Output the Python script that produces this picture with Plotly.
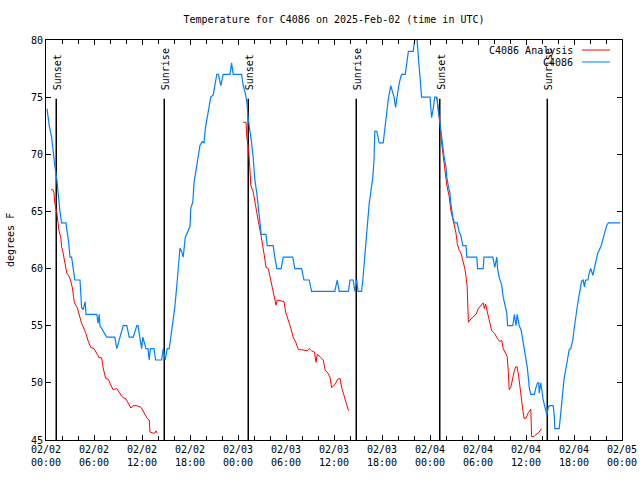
import pandas as pd
import plotly.graph_objects as go

START = pd.Timestamp("2025-02-02 00:00")
END = pd.Timestamp("2025-02-05 00:00")

# Observations (hours since 02/02 00:00 UTC, degrees F)
obs_hours = [0.125, 0.4, 0.7, 0.9, 1.1, 1.35, 1.55, 1.75, 1.95, 2.5, 2.6, 2.8, 3.0, 3.2, 3.4, 3.6,
             4.25, 4.4, 4.45, 4.65, 4.9, 5.0, 6.35, 6.5, 6.65, 6.75, 7.6, 8.6, 8.85, 9.25, 9.65,
             10.1, 10.4, 10.9, 11.35, 11.5, 11.75, 11.95, 12.1, 12.5, 12.75, 12.9, 13.05, 13.5,
             13.7, 14.45, 14.65, 14.9, 15.15, 15.4, 15.6, 15.9, 16.1, 16.35, 16.55, 16.75, 16.95,
             17.15, 17.4, 17.6, 18.0, 18.1, 18.35, 18.5, 18.7, 18.85, 19.05, 19.25, 19.55, 19.75,
             19.95, 20.15, 20.4, 20.6, 20.9, 21.1, 21.35, 21.55, 21.85, 22.15, 23.0, 23.2, 23.4,
             24.45, 24.65, 24.9, 25.1, 25.3, 25.5, 25.7, 25.9, 26.1, 26.35, 26.55, 26.75, 26.9,
             27.5, 27.65, 28.4, 28.6, 28.85, 29.4, 29.65, 30.85, 31.1, 31.95, 32.25, 32.9, 33.2,
             36.1, 36.4, 36.65, 37.8, 38.0, 38.4, 38.6, 38.85, 39.0, 39.45, 39.6, 39.8, 40.0,
             40.15, 40.4, 40.6, 40.85, 41.0, 41.1, 41.35, 41.65, 42.15, 42.4, 42.6, 42.8, 43.1,
             43.3, 43.5, 43.7, 43.85, 44.05, 44.25, 44.45, 44.9, 45.1, 45.3, 45.9, 46.1, 46.35,
             46.45, 46.6, 46.75, 46.9, 46.95, 48.0, 48.1, 48.2, 48.4, 48.6, 48.85, 49.05, 49.15,
             49.45, 49.75, 50.0, 50.1, 50.3, 50.5, 50.6, 50.85, 51.05, 51.4, 51.65, 51.85, 52.1,
             52.5, 52.6, 53.85, 53.95, 54.65, 54.75, 55.85, 56.0, 56.1, 56.35, 56.45, 56.65,
             56.95, 57.15, 57.4, 57.6, 57.7, 58.35, 58.55, 58.75, 58.9, 59.15, 59.4, 59.55, 59.8,
             60.0, 60.15, 60.3, 60.4, 60.6, 61.05, 61.25, 61.45, 61.6, 61.65, 61.85, 61.95, 62.15,
             62.4, 62.6, 62.8, 63.0, 63.4, 63.55, 63.6, 64.15, 64.35, 64.45, 64.6, 64.75, 64.95,
             65.1, 65.3, 65.4, 65.6, 65.85, 66.0, 66.15, 66.35, 66.55, 66.75, 66.95, 67.15, 67.3,
             67.45, 67.75, 67.9, 68.1, 68.35, 68.5, 68.75, 68.95, 69.4, 69.65, 69.9, 70.1, 70.3,
             71.75]
obs_temps = [74, 72.5, 71.5, 70, 69, 67.8, 66, 65, 64, 64, 63.4, 62.5, 61, 61, 60, 59,
             59, 57.5, 56.6, 56.4, 57.1, 56, 56, 55.2, 56, 55, 54, 54, 53, 54, 55,
             55, 54, 54, 55, 55, 54, 53, 54, 53, 53, 52, 53, 53,
             52, 52, 53, 52, 53, 53, 54, 55.5, 56.6, 58.5, 60.5, 61.8, 61.5,
             61, 62.7, 63, 63.7, 65.3, 65.8, 67.5, 68.4, 69, 70.1, 70.8, 71.1, 71,
             72.4, 73.3, 74.3, 75, 75.2, 76, 77, 77, 76, 77, 77, 78, 77,
             77, 76, 75.4, 74.6, 73, 72.1, 71, 69.7, 67.8, 66.6, 65, 64, 63,
             63, 62, 62, 61, 60, 60, 61, 61, 60, 60, 59, 59, 58,
             58, 59, 58, 58, 59, 59, 58, 59, 58, 58, 59, 60.75, 62.2,
             63.4, 65.7, 66.7, 68, 69.5, 72, 72, 71, 71, 72.6, 73.9, 74.9, 76,
             75.6, 75, 74.1, 75, 75.8, 76.5, 77, 77, 78, 79, 79, 80, 80.3,
             79, 78, 76.8, 75.4, 75, 75, 74, 73.2, 74, 75, 75, 73.9, 73,
             71.3, 69.8, 68.9, 68, 67.2, 66.6, 65.7, 64.5, 64, 64, 63.2, 62.9, 62,
             62, 61, 61, 60, 60, 61, 61, 60.5, 60.1, 61, 60, 59.2,
             58.6, 57.5, 56.6, 56.1, 55, 55, 56, 55, 56, 55, 54.6, 54, 53,
             52.3, 51.4, 50.4, 49.6, 49, 49, 49.6, 50, 50, 49.1, 50, 49.4, 48.5,
             47.8, 47.2, 47.9, 48, 48, 47, 46, 46, 47.4, 48.2, 49.4, 50.3, 51.1,
             51.6, 52.3, 52.9, 53, 53.75, 54.6, 55.5, 56.4, 57.3, 58.3, 58.9, 59, 58.4,
             59, 59, 59.6, 60, 59.4, 59.9, 60.9, 61.3, 62, 62.7, 63.4, 63.8, 64,
             64]

# Analysis (three overnight segments)
ana1_hours = [0.625, 0.85, 1.0, 1.1, 1.35, 1.45, 1.6, 1.85, 1.95, 2.1, 2.25, 2.4, 2.6, 2.9, 3.1,
              3.3, 3.4, 3.55, 3.9, 4.15, 4.45, 4.65, 4.95, 5.3, 5.6, 6.0, 6.35, 6.65, 6.95, 7.15,
              7.45, 7.8, 8.1, 8.4, 8.85, 9.1, 9.4, 9.65, 10.0, 10.3, 10.6, 10.9, 11.35, 11.75,
              11.95, 12.4, 12.65, 12.9, 13.0, 13.4, 13.6, 13.75, 13.9]
ana1_temps = [66.9, 66.9, 66.6, 65.7, 64.9, 64.1, 63.4, 62.7, 61.9, 61.5, 60.9, 60.1, 59.6, 59.3, 58.9,
              58.3, 57.5, 57, 56.6, 55.9, 55.2, 54.9, 54.4, 53.6, 53.1, 53, 52.6, 52.2, 52.2, 51.3,
              50.4, 50.3, 49.8, 49.4, 49.5, 49.2, 48.9, 48.7, 48.6, 48.2, 47.8, 48, 48, 47.9,
              47.8, 47.2, 46.9, 46.75, 45.7, 45.6, 45.6, 45.8, 45.6]
ana2_hours = [24.65, 25.0, 25.1, 25.3, 25.5, 25.6, 25.9, 26.1, 26.35, 26.55, 26.85, 27.1, 27.25,
              27.5, 27.8, 28.0, 28.2, 28.4, 28.75, 28.9, 29.25, 29.75, 29.95, 30.3, 30.6, 30.9,
              31.25, 31.55, 31.95, 32.65, 32.9, 33.2, 33.55, 33.75, 33.9, 34.25, 34.65, 34.9,
              35.2, 35.5, 35.7, 35.9, 36.25, 36.45, 36.75, 36.95, 37.15, 37.4, 37.6, 37.8, 37.9]
ana2_temps = [72.8, 72.8, 71.5, 70.6, 68.6, 67.3, 66.7, 66, 65.1, 64.1, 63, 62.1, 61.3,
              60.1, 60, 59.3, 58.6, 57.9, 56.8, 57.25, 57.2, 57.1, 56.2, 55.5, 54.8, 54,
              53.5, 52.9, 52.9, 52.8, 53, 52.8, 52.7, 51.8, 52.5, 52.3, 52, 51.1,
              50.9, 50.5, 49.6, 49.7, 50, 50.3, 50.4, 49.6, 49.1, 48.5, 47.9, 47.6, 47.6]
ana3_hours = [48.75, 48.9, 49.05, 49.25, 49.45, 49.65, 49.9, 50.1, 50.4, 50.6, 50.8, 51.05, 51.25,
              51.4, 51.65, 51.9, 52.05, 52.15, 52.35, 52.5, 52.65, 52.7, 52.8, 53.0, 53.4, 53.75,
              54.05, 54.4, 54.65, 54.8, 54.95, 55.2, 55.5, 55.7, 56.1, 56.4, 56.75, 56.95, 57.15,
              57.45, 57.65, 57.8, 57.9, 58.1, 58.35, 58.55, 58.7, 58.9, 59.1, 59.35, 59.55, 59.75,
              60.0, 60.3, 60.6, 60.7, 61.0, 61.25, 61.55, 61.75, 61.95]
ana3_temps = [74.9, 74.9, 73.7, 72.7, 71, 69.8, 68.5, 67.3, 66.3, 65.1, 64.5, 63.8, 63.1,
              62.2, 61.6, 61.3, 60.9, 60.5, 60, 59.3, 58.4, 57.25, 55.3, 55.5, 55.8, 56,
              56.5, 56.8, 57, 56.5, 56.9, 56.1, 55.3, 54.6, 54.3, 53.9, 53.6, 53.75, 53,
              52.6, 52.3, 50.9, 49.4, 49.6, 50.5, 51.1, 51.4, 51.4, 50.5, 48.8, 47.9, 46.9,
              46.9, 47.4, 47.7, 45.3, 45.3, 45.5, 45.6, 45.8, 46]

# Sun events (hours since 02/02 00:00 UTC)
sun_hours = [1.28, 14.78, 25.28, 38.78, 49.22, 62.66]
sun_labels = ["Sunset", "Sunrise", "Sunset", "Sunrise", "Sunset", "Sunrise"]
sun_line_top = 74.85
sun_label_base = 75.45

series_names = ["C4086 Analysis", "C4086"]
series_colors = ["#ff0000", "#0080ff"]

FONT = "DejaVu Sans Mono"

# plot box in pixels (640x480 canvas)
L, R, T, B = 46, 622, 40, 440
W, H = 640, 480


def to_time(hours):
    return [None if h is None else START + pd.Timedelta(hours=h) for h in hours]


def dx(px):
    return (px - L) / (R - L)


def dy(py):
    return (B - py) / (B - T)


ana_hours = ana1_hours + [None] + ana2_hours + [None] + ana3_hours
ana_temps = ana1_temps + [None] + ana2_temps + [None] + ana3_temps

fig = go.Figure()

for h, lab in zip(sun_hours, sun_labels):
    t = START + pd.Timedelta(hours=h)
    fig.add_shape(type="line", xref="x", yref="y", x0=t, x1=t, y0=45, y1=sun_line_top,
                  line=dict(color="black", width=1.5), layer="below")
    fig.add_annotation(x=t, y=sun_label_base, xref="x", yref="y", text=lab, textangle=-90,
                       showarrow=False, xanchor="center", yanchor="bottom", xshift=1,
                       font=dict(family=FONT, size=10, color="black"))

fig.add_trace(go.Scatter(x=to_time(ana_hours), y=ana_temps, mode="lines", name=series_names[0],
                         line=dict(color=series_colors[0], width=1), connectgaps=False,
                         showlegend=False))
fig.add_trace(go.Scatter(x=to_time(obs_hours), y=obs_temps, mode="lines", name=series_names[1],
                         line=dict(color=series_colors[1], width=1.2), showlegend=False))

# gnuplot-style legend: text on the left, line sample on the right
for i, (nm, col) in enumerate(zip(series_names, series_colors)):
    ypix = 50 + 12 * i
    fig.add_annotation(x=dx(575), y=dy(ypix), xref="x domain", yref="y domain",
                       text=nm, showarrow=False, xanchor="right", yanchor="middle",
                       font=dict(family=FONT, size=10, color="black"))
    fig.add_shape(type="line", xref="x domain", yref="y domain",
                  x0=dx(582), x1=dx(610), y0=dy(ypix), y1=dy(ypix),
                  line=dict(color=col, width=1))

# y-axis title
fig.add_annotation(x=0, y=0.5, xref="paper", yref="paper", xshift=10 - L, text="degrees F",
                   textangle=-90, showarrow=False, xanchor="center", yanchor="middle",
                   font=dict(family=FONT, size=10, color="black"))

fig.update_layout(
    width=W, height=H,
    margin=dict(l=L, r=W - R, t=T, b=H - B, autoexpand=False),
    paper_bgcolor="white", plot_bgcolor="white",
    font=dict(family=FONT, size=10, color="black"),
    title=dict(text="Temperature for C4086 on 2025-Feb-02 (time in UTC)", x=(L + R) / 2 / W,
               xanchor="center", y=1 - 19 / H, yanchor="middle",
               font=dict(family=FONT, size=10, color="black")),
    showlegend=False,
    hovermode=False,
)

fig.update_xaxes(
    type="date", range=[START, END], tick0=START, dtick=6 * 3600 * 1000, automargin=False,
    tickformat="%m/%d<br>%H:%M", ticks="inside", ticklen=5, tickcolor="black",
    showline=True, linecolor="black", linewidth=1, mirror="ticks", showgrid=False, zeroline=False,
    minor=dict(dtick=2 * 3600 * 1000, ticks="inside", ticklen=4, tickcolor="black", showgrid=False),
    tickfont=dict(family=FONT, size=10, color="black"),
)
fig.update_yaxes(
    range=[45, 80], tick0=45, dtick=5, ticks="inside", ticklen=5, tickcolor="black", automargin=False,
    showline=True, linecolor="black", linewidth=1, mirror="ticks", showgrid=False, zeroline=False,
    tickfont=dict(family=FONT, size=10, color="black"),
)
fig.write_html("out.html", config={"displayModeBar": False, "staticPlot": True},
               post_script="document.body.style.margin='0';document.body.style.overflow='hidden';")
